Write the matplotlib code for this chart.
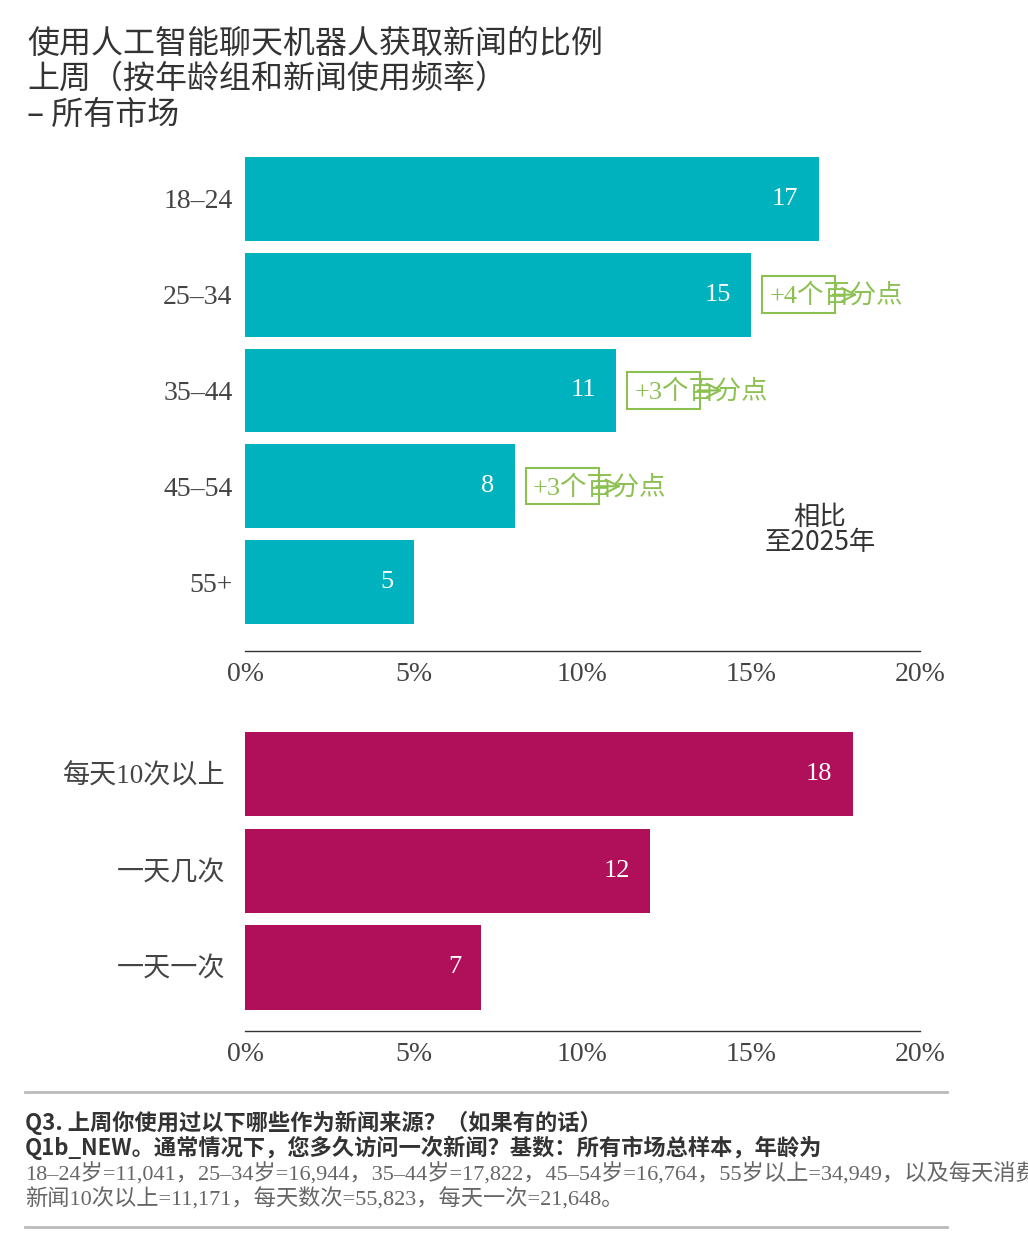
import matplotlib
matplotlib.use("Agg")
import matplotlib.pyplot as plt
from matplotlib.patches import Rectangle

# data
age_groups = ["18–24", "25–34", "35–44", "45–54", "55+"]
age_values = [17, 15, 11, 8, 5]
age_change = [None, 4, 3, 3, None]
freq_groups = ["每天10次以上", "一天几次", "一天一次"]
freq_values = [18, 12, 7]
x_ticks = [0, 5, 10, 15, 20]

TEAL = "#00B2BE"
MAGENTA = "#B0105A"
GREEN = "#8CC152"
DARK = "#333333"
SERIF = ["Liberation Serif", "Noto Sans CJK SC"]
SANS = ["Noto Sans CJK SC", "DejaVu Sans"]

W, H = 1028, 1247
fig = plt.figure(figsize=(W / 100, H / 100), dpi=100)


def px_axes(left, top, right, bottom):
    return fig.add_axes([left / W, 1 - bottom / H, (right - left) / W, (bottom - top) / H])


def style_axes(ax, labels, size, pad):
    for s in ["top", "right", "left"]:
        ax.spines[s].set_visible(False)
    ax.spines["bottom"].set_color(DARK)
    ax.spines["bottom"].set_linewidth(1.0)
    ax.set_xlim(0, 20)
    ax.set_xticks(x_ticks)
    ax.set_xticklabels([f"{t}%" for t in x_ticks], family=SERIF, fontsize=20, color="#444444")
    ax.set_yticks(range(len(labels)))
    ax.set_yticklabels(labels, family=SERIF, fontsize=size, color="#444444")
    ax.tick_params(length=0)
    ax.tick_params(axis="x", pad=8)
    ax.tick_params(axis="y", pad=pad)


# top chart: age groups
ax1 = px_axes(245, 151, 920, 651)
ax1.barh(range(len(age_groups)), age_values, height=0.875, color=TEAL)
ax1.set_ylim(4.72, -0.5)
style_axes(ax1, age_groups, 20, 9)
for i, v in enumerate(age_values):
    ax1.text(v - 0.6, i, str(v), ha="right", va="center", color="white",
             family=SERIF, fontsize=19)
for i, (v, c) in enumerate(zip(age_values, age_change)):
    if c is None:
        continue
    bx = v + 0.33
    ax1.add_patch(Rectangle((bx, i - 0.19), 2.16, 0.38, fill=False,
                            edgecolor=GREEN, lw=1.5))
    ax1.text(bx + 0.2, i + 0.01, f"+{c}个百分点", ha="left", va="center",
             color=GREEN, family=SERIF, fontsize=19)
    ax1.annotate("", xy=(bx + 2.9, i), xytext=(bx + 2.0, i),
                 arrowprops=dict(arrowstyle="->", color=GREEN, lw=1.5,
                                 mutation_scale=24))
fig.text(820 / W, 1 - 530 / H, "相比\n至2025年", ha="center", va="center",
         family=SANS, fontsize=19, color=DARK, linespacing=0.95, fontweight="light")

# bottom chart: news frequency
ax2 = px_axes(245, 726, 920, 1031)
ax2.barh(range(len(freq_groups)), freq_values, height=0.875, color=MAGENTA)
ax2.set_ylim(2.66, -0.5)
style_axes(ax2, freq_groups, 19.5, 14)
for i, v in enumerate(freq_values):
    ax2.text(v - 0.6, i, str(v), ha="right", va="center", color="white",
             family=SERIF, fontsize=19)

# title
fig.text(27 / W, 1 - 28 / H,
         "使用人工智能聊天机器人获取新闻的比例\n上周（按年龄组和新闻使用频率）\n– 所有市场",
         ha="left", va="top", family=SANS, fontsize=23, color=DARK,
         linespacing=1.13, fontweight="light")

# footnote
for y in [1092, 1227]:
    fig.add_artist(plt.Line2D([25 / W, 947 / W], [1 - y / H, 1 - y / H],
                              color="#BBBBBB", lw=2))
fig.text(25 / W, 1 - 1123 / H, "Q3. 上周你使用过以下哪些作为新闻来源？（如果有的话）",
         ha="left", va="center", family=SANS, fontsize=16, fontweight="bold", color=DARK)
fig.text(25 / W, 1 - 1148 / H,
         "Q1b_NEW。通常情况下，您多久访问一次新闻？基数：所有市场总样本，年龄为",
         ha="left", va="center", family=SANS, fontsize=16, fontweight="bold", color=DARK)
fig.text(25 / W, 1 - 1174 / H,
         "18–24岁=11,041，25–34岁=16,944，35–44岁=17,822，45–54岁=16,764，55岁以上=34,949，以及每天消费",
         ha="left", va="center", family=SERIF, fontsize=16, color="#666666")
fig.text(25 / W, 1 - 1199 / H,
         "新闻10次以上=11,171，每天数次=55,823，每天一次=21,648。",
         ha="left", va="center", family=SERIF, fontsize=16, color="#666666")

fig.savefig("out.png", dpi=100)
